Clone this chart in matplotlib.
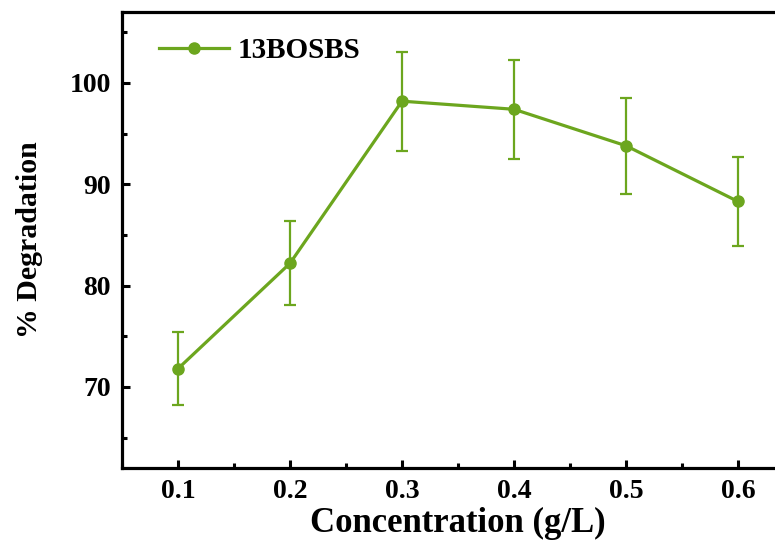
import matplotlib
matplotlib.use("Agg")
import matplotlib.pyplot as plt
from matplotlib.ticker import MultipleLocator

conc = [0.1, 0.2, 0.3, 0.4, 0.5, 0.6]
degradation = [71.8, 82.2, 98.2, 97.4, 93.8, 88.3]
err = [3.6, 4.15, 4.9, 4.9, 4.75, 4.35]
series_name = "13BOSBS"

plt.rcParams['font.family'] = ['Liberation Serif', 'DejaVu Serif']
plt.rcParams['font.weight'] = 'bold'

color = '#6CA61E'
fig = plt.figure(figsize=(7.75, 5.41), dpi=100)
ax = fig.add_axes([122/775, 73/541, 672/775, 456/541])

ax.errorbar(conc, degradation, yerr=err, fmt='none', ecolor=color,
            elinewidth=1.6, capsize=4.5, capthick=1.6)
ax.plot(conc, degradation, color=color, lw=2.3, marker='o', ms=8, label=series_name)

ax.set_xlim(0.05, 0.65)
ax.set_ylim(62, 107)
ax.xaxis.set_minor_locator(MultipleLocator(0.05))
ax.yaxis.set_major_locator(MultipleLocator(10))
ax.yaxis.set_minor_locator(MultipleLocator(5))
ax.set_xticks(conc)
ax.set_xticklabels([f"{c:.1f}" for c in conc])

for s in ax.spines.values():
    s.set_linewidth(2.3)
ax.tick_params(which='major', direction='in', length=6, width=2.2, labelsize=20, pad=8)
ax.tick_params(which='minor', direction='in', length=3.5, width=2.2)
for lab in ax.get_xticklabels() + ax.get_yticklabels():
    lab.set_fontweight('bold')

ax.set_xlabel("Concentration (g/L)", fontsize=25, fontweight='bold', labelpad=2)
ax.set_ylabel("% Degradation", fontsize=21.5, fontweight='bold', labelpad=19)

leg = ax.legend(loc='upper left', frameon=False, prop={'size': 21, 'weight': 'bold'},
                handlelength=2.4, bbox_to_anchor=(0.025, 0.99), handletextpad=0.3,
                borderaxespad=0.3)

fig.savefig("out.png", dpi=100)
